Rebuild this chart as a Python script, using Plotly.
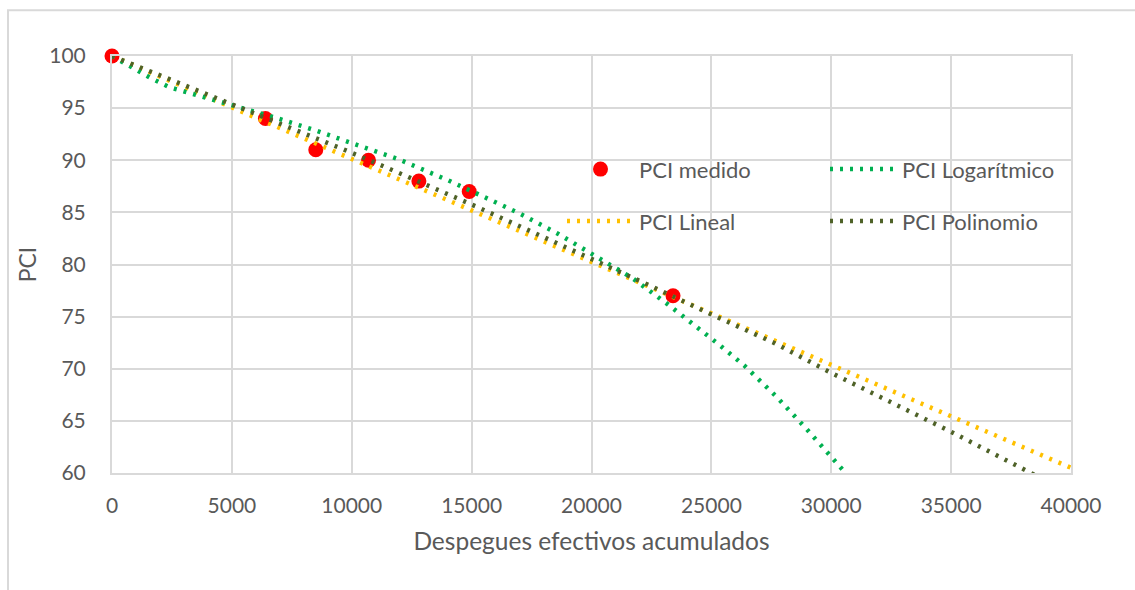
import plotly.graph_objects as go

# Measured PCI
medido_x = [0, 6400, 8500, 10700, 12800, 14900, 23400]
medido_y = [100, 94, 91, 90, 88, 87, 77]

# Trend lines
lineal_x = [0, 40000]
lineal_y = [100, 60.5]

log_x = [0, 800, 1600, 2400, 3300, 4200, 5500, 6800, 8500, 10200, 12000, 14000,
         15300, 17000, 18600, 20200, 21700, 23200, 24600, 25300, 26400, 27700,
         28900, 30200, 30600]
log_y = [100, 98.9, 97.9, 97.0, 96.4, 95.8, 94.95, 94.1, 92.85, 91.5, 90.05, 88.1,
         86.75, 84.9, 82.95, 80.8, 78.7, 76.15, 73.7, 72.35, 70.25, 67.35,
         64.4, 61.1, 60.0]

poli_x = [0, 1300, 2950, 4650, 6400, 8000, 9700, 11400, 13500, 15200, 17600, 20100,
          22600, 25100, 27600, 30000, 32500, 35000, 37400, 38500]
poli_y = [100, 98.8, 97.3, 95.75, 94.1, 92.6, 91.0, 89.35, 87.3, 85.55, 83.05, 80.45,
          77.8, 75.1, 72.5, 69.6, 66.8, 63.95, 61.1, 59.8]

x_ticks = [0, 5000, 10000, 15000, 20000, 25000, 30000, 35000, 40000]
y_ticks = [60, 65, 70, 75, 80, 85, 90, 95, 100]

FONT = "Lato, 'Open Sans', sans-serif"
TXT = "#595959"
GRID = "#D9D9D9"
DOT = "3px,7px"

fig = go.Figure()
fig.add_trace(go.Scatter(x=medido_x, y=medido_y, mode="markers", name="PCI medido",
                         marker=dict(color="#FF0000", size=15), cliponaxis=False,
                         legend="legend", showlegend=True))
fig.add_trace(go.Scatter(x=lineal_x, y=lineal_y, mode="lines", name="PCI Lineal",
                         line=dict(color="#FFC000", width=4.5, dash=DOT), legend="legend3",
                         showlegend=True))
fig.add_trace(go.Scatter(x=log_x, y=log_y, mode="lines", name="PCI Logarítmico",
                         line=dict(color="#00B050", width=4.5, dash=DOT), legend="legend2",
                         showlegend=True))
fig.add_trace(go.Scatter(x=poli_x, y=poli_y, mode="lines", name="PCI Polinomio",
                         line=dict(color="#4F6228", width=4.5, dash=DOT), legend="legend4",
                         showlegend=True))

def px2x(px):
    return (px - 112) / 959.0

def py2y(py):
    return (472.7 - py) / 417.0

leg_common = dict(font=dict(family=FONT, size=22, color=TXT), bgcolor="rgba(0,0,0,0)",
                  xanchor="left", yanchor="middle", itemwidth=67, borderwidth=0)

fig.update_layout(
    width=1135, height=590, showlegend=True,
    margin=dict(l=112, r=64, t=56, b=117, autoexpand=False),
    paper_bgcolor="white", plot_bgcolor="white",
    font=dict(family=FONT, color=TXT),
    xaxis=dict(range=[0, 40000], tickvals=x_ticks, ticktext=[str(v) for v in x_ticks],
               showgrid=True, gridcolor=GRID, gridwidth=2, zeroline=False,
               showline=True, linecolor=GRID, linewidth=2, mirror=True,
               tickfont=dict(family=FONT, size=21, color=TXT), ticks="",
               ticklabelstandoff=13,
               title=dict(text="Despegues efectivos acumulados",
                          font=dict(family=FONT, size=24.5, color=TXT), standoff=17)),
    yaxis=dict(range=[60, 100], tickvals=y_ticks, ticktext=[str(v) for v in y_ticks],
               showgrid=True, gridcolor=GRID, gridwidth=2, zeroline=False,
               showline=True, linecolor=GRID, linewidth=2, mirror=True,
               tickfont=dict(family=FONT, size=21, color=TXT), ticks="",
               ticklabelstandoff=20,
               title=dict(text="PCI", font=dict(family=FONT, size=23, color=TXT), standoff=6)),
    legend=dict(x=px2x(562), y=py2y(169), **leg_common),
    legend2=dict(x=px2x(825), y=py2y(169), **leg_common),
    legend3=dict(x=px2x(562), y=py2y(221), **leg_common),
    legend4=dict(x=px2x(825), y=py2y(221), **leg_common),
    shapes=[dict(type="rect", xref="paper", yref="paper",
                 x0=px2x(8), x1=px2x(1200), y0=py2y(700), y1=py2y(10),
                 line=dict(color=GRID, width=2), fillcolor="rgba(0,0,0,0)", layer="below")],
)

fig.write_html("out.html")
